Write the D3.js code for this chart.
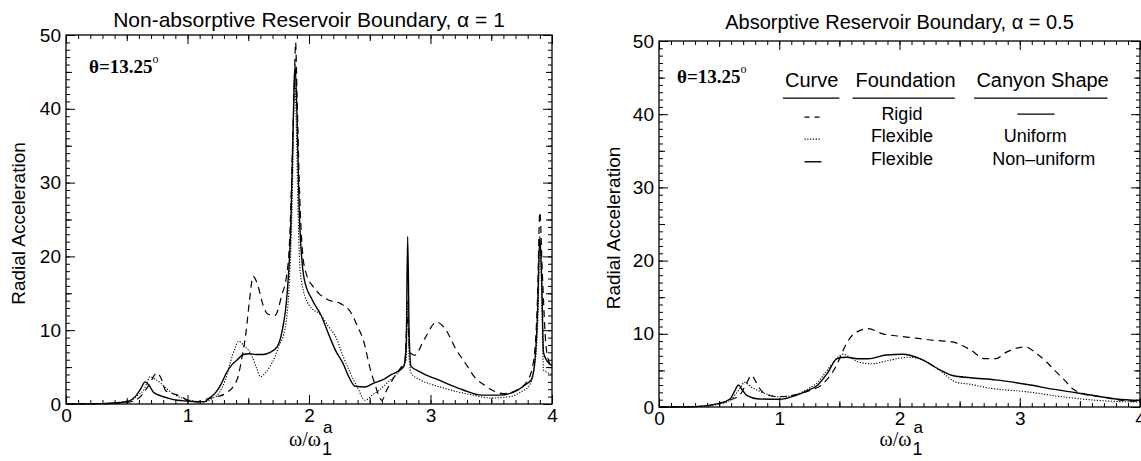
<!DOCTYPE html>
<html>
<head>
<meta charset="utf-8">
<script src="https://cdn.jsdelivr.net/npm/d3@7"></script>
<style>
  body { margin: 0; background: #fff; }
  svg { display: block; }
  .title, .tick text, .label, .legend { font-family: "Liberation Sans", Arial, sans-serif; fill: #000; }
  .serif { font-family: "Liberation Serif", "Times New Roman", serif; fill: #000; }
  .frame { fill: none; stroke: #000; stroke-width: 1.3; }
  .tick line { stroke: #000; stroke-width: 1; }
  .curve { fill: none; stroke: #000; }
</style>
</head>
<body>
<svg id="chart" width="1141" height="461"></svg>
<script>
// x values are omega / omega_1^a, y values radial acceleration
var leftRigid = [[0,0],[0.3,0.05],[0.5,0.2],[0.6,0.8],[0.68,2.5],[0.75,4.2],[0.79,3.2],[0.82,1.8],[0.9,1.3],[0.95,1.0],[1.0,0.5],[1.08,0.3],[1.14,0.6],[1.22,0.9],[1.32,1.5],[1.41,3.4],[1.45,6.5],[1.48,9.5],[1.51,14],[1.54,17.3],[1.58,16],[1.62,13.5],[1.66,12.2],[1.72,12],[1.78,15],[1.81,16.8],[1.84,22],[1.86,32],[1.88,44],[1.89,49],[1.9,43],[1.92,30],[1.95,20],[1.98,17.5],[2.03,16],[2.08,15],[2.16,14.1],[2.26,13.6],[2.34,12.5],[2.4,10.5],[2.45,8.5],[2.5,5],[2.54,2.8],[2.6,0.5],[2.64,1.9],[2.7,3.6],[2.75,4.8],[2.79,5.8],[2.81,12],[2.83,7],[2.87,6.6],[2.95,8.8],[3.05,11.1],[3.12,10.2],[3.21,7.4],[3.3,5.2],[3.36,3.7],[3.45,2.5],[3.53,1.7],[3.6,1.4],[3.7,1.8],[3.8,3.2],[3.85,6],[3.88,14],[3.9,26],[3.92,18],[3.95,8],[3.98,5.5],[4,5]];
var leftFlexUniform = [[0,0],[0.3,0.05],[0.53,0.5],[0.6,1.3],[0.64,1.9],[0.67,3.0],[0.69,3.7],[0.73,3.4],[0.78,2.8],[0.84,1.9],[0.9,1.2],[0.96,0.8],[1.02,0.5],[1.08,0.3],[1.14,0.3],[1.2,0.7],[1.26,1.5],[1.31,3.2],[1.35,5.5],[1.39,7.5],[1.42,8.5],[1.46,8.0],[1.53,6.5],[1.57,4.8],[1.6,3.7],[1.64,4.2],[1.68,5.1],[1.72,6.4],[1.75,7.8],[1.8,10],[1.84,17],[1.865,30],[1.88,45],[1.895,38],[1.91,26],[1.93,17.5],[2.0,13.4],[2.1,12],[2.16,10.5],[2.22,9.1],[2.28,6.5],[2.34,4.2],[2.4,2.2],[2.46,0.5],[2.52,1.2],[2.58,1.9],[2.64,2.8],[2.7,3.7],[2.76,4.8],[2.8,6],[2.812,14],[2.825,6],[2.84,4.2],[2.91,3.3],[3.0,2.7],[3.1,2.2],[3.21,1.7],[3.35,1.2],[3.51,0.8],[3.6,0.9],[3.66,1.0],[3.74,1.6],[3.81,2.4],[3.86,5.5],[3.885,12],[3.9,22],[3.915,15],[3.93,4.6],[3.96,4.3],[4,4]];
var leftFlexNonUniform = [[0,0],[0.3,0.05],[0.5,0.3],[0.58,1.2],[0.62,2.2],[0.65,3.0],[0.68,2.6],[0.72,1.6],[0.78,1.1],[0.84,0.8],[0.92,0.5],[0.99,0.4],[1.08,0.3],[1.14,0.3],[1.18,0.8],[1.23,1.5],[1.28,2.8],[1.32,4.2],[1.37,5.4],[1.41,6.0],[1.46,6.7],[1.51,6.8],[1.56,6.7],[1.62,6.7],[1.68,7.0],[1.74,7.8],[1.78,10],[1.82,15],[1.85,24],[1.87,38],[1.885,46],[1.9,40],[1.92,26],[1.96,17],[2.03,14],[2.1,12],[2.17,9.1],[2.22,7.2],[2.28,5.5],[2.33,3.6],[2.38,2.4],[2.46,2.3],[2.53,2.8],[2.61,3.3],[2.68,4.0],[2.73,4.4],[2.78,5.1],[2.8,8],[2.812,22.7],[2.825,9],[2.84,5.1],[2.91,4.4],[2.98,3.8],[3.06,3.3],[3.16,2.6],[3.27,1.9],[3.42,1.2],[3.57,1.2],[3.65,1.4],[3.72,1.9],[3.78,2.6],[3.83,3.3],[3.86,6],[3.88,12],[3.9,22.7],[3.915,17],[3.93,7],[3.96,5.8],[4,5.2]];

var rightRigid = [[0,0],[0.3,0.05],[0.5,0.5],[0.6,1.0],[0.68,1.8],[0.73,3.3],[0.77,4.3],[0.8,3.6],[0.83,2.7],[0.91,1.6],[1.0,1.4],[1.14,1.7],[1.26,2.3],[1.35,3.0],[1.41,4.0],[1.47,5.5],[1.52,7.3],[1.56,8.7],[1.65,10.3],[1.74,10.7],[1.86,10],[1.98,9.7],[2.14,9.4],[2.29,9.1],[2.44,8.9],[2.52,8.4],[2.59,7.8],[2.71,6.6],[2.8,6.6],[2.89,7.5],[3.05,8.2],[3.14,7.3],[3.22,6.2],[3.29,5.0],[3.37,3.7],[3.44,2.5],[3.53,1.8],[3.68,1.4],[3.86,0.9],[4,0.8]];
var rightFlexUniform = [[0,0],[0.3,0.05],[0.5,0.4],[0.59,0.9],[0.64,1.8],[0.68,2.7],[0.71,3.4],[0.74,3.1],[0.77,2.7],[0.83,2.2],[0.89,1.8],[1.0,1.4],[1.14,1.7],[1.23,2.4],[1.32,3.4],[1.38,4.6],[1.44,5.9],[1.53,7.2],[1.59,6.8],[1.65,6.2],[1.77,5.9],[1.92,6.4],[2.08,6.8],[2.2,6.4],[2.28,5.6],[2.35,4.8],[2.47,3.4],[2.59,3.1],[2.74,2.6],[3.05,2.1],[3.35,1.4],[3.65,0.9],[3.95,0.7],[4,0.7]];
var rightFlexNonUniform = [[0,0],[0.3,0.05],[0.5,0.5],[0.59,1.1],[0.63,2.2],[0.66,3.0],[0.69,2.4],[0.73,1.6],[0.83,1.1],[1.0,1.05],[1.14,1.6],[1.23,2.2],[1.32,3.0],[1.4,4.6],[1.48,6.6],[1.56,6.8],[1.65,6.6],[1.74,6.6],[1.89,7.1],[2.03,7.2],[2.14,6.8],[2.22,6.2],[2.29,5.5],[2.37,4.8],[2.44,4.3],[2.59,4.0],[2.8,3.7],[3.05,3.1],[3.29,2.4],[3.56,1.7],[3.8,1.1],[4,0.9]];

var xMajor = [0, 1, 2, 3, 4];
var yMajor = [0, 10, 20, 30, 40, 50];
var titles = ["Non-absorptive Reservoir Boundary, \u03b1 = 1", "Absorptive Reservoir Boundary, \u03b1 = 0.5"];
var legendHeaders = ["Curve", "Foundation", "Canyon Shape"];
var legendFoundation = ["Rigid", "Flexible", "Flexible"];
var legendCanyon = ["", "Uniform", "Non\u2013uniform"];

var STYLES = [
    { dash: "7,5", width: 1.2 },
    { dash: "1.2,1.6", width: 1.1 },
    { dash: null, width: 1.4 }
];

var svg = d3.select("#chart");

var drawPanel = function (box, title, series, theta) {
    var x = d3.scaleLinear().domain([0, 4]).range([box.left, box.right]);
    var y = d3.scaleLinear().domain([0, 50]).range([box.bottom, box.top]);
    var w = box.right - box.left, h = box.bottom - box.top;
    var cx = (box.left + box.right) / 2;
    var g = svg.append("g");

    var xMinor = d3.range(0, 40.5).map(function (d) { return d / 10; });
    var xHalf = [0.5, 1.5, 2.5, 3.5];
    var yMinor = d3.range(0, 51);
    var yHalf = [5, 15, 25, 35, 45];

    // ticks on every side, pointing in
    var tickSet = function (axisFn, scale, vals, size, labels, transform) {
        var a = axisFn(scale).tickValues(vals).tickSize(-size).tickPadding(5)
            .tickFormat(labels ? d3.format("d") : "");
        var t = g.append("g").attr("transform", transform).call(a);
        t.select(".domain").remove();
        t.selectAll("text").style("font-size", "19px");
        return t;
    };
    tickSet(d3.axisBottom, x, xMinor, 4, false, "translate(0," + box.bottom + ")");
    tickSet(d3.axisBottom, x, xHalf, 6, false, "translate(0," + box.bottom + ")");
    tickSet(d3.axisBottom, x, xMajor, 9, true, "translate(0," + box.bottom + ")");
    tickSet(d3.axisTop, x, xMinor, 4, false, "translate(0," + box.top + ")");
    tickSet(d3.axisTop, x, xHalf, 6, false, "translate(0," + box.top + ")");
    tickSet(d3.axisTop, x, xMajor, 9, false, "translate(0," + box.top + ")");
    tickSet(d3.axisLeft, y, yMinor, 4, false, "translate(" + box.left + ",0)");
    tickSet(d3.axisLeft, y, yHalf, 6, false, "translate(" + box.left + ",0)");
    tickSet(d3.axisLeft, y, yMajor, 9, true, "translate(" + box.left + ",0)");
    tickSet(d3.axisRight, y, yMinor, 4, false, "translate(" + box.right + ",0)");
    tickSet(d3.axisRight, y, yHalf, 6, false, "translate(" + box.right + ",0)");
    tickSet(d3.axisRight, y, yMajor, 9, false, "translate(" + box.right + ",0)");

    g.append("rect").attr("class", "frame")
        .attr("x", box.left).attr("y", box.top)
        .attr("width", w).attr("height", h);

    var line = d3.line()
        .x(function (d) { return x(d[0]); })
        .y(function (d) { return y(d[1]); })
        .curve(d3.curveMonotoneX);

    series.forEach(function (s, i) {
        g.append("path").datum(s)
            .attr("class", "curve")
            .attr("d", line)
            .attr("stroke-width", STYLES[i].width)
            .attr("stroke-dasharray", STYLES[i].dash);
    });

    g.append("text").attr("class", "title")
        .attr("x", cx).attr("y", box.titleY)
        .attr("text-anchor", "middle").style("font-size", box.titleSize)
        .text(title);

    g.append("text").attr("class", "label")
        .attr("transform", "translate(" + box.yLabelX + "," + ((box.top + box.bottom) / 2 + 4) + ") rotate(-90)")
        .attr("text-anchor", "middle").style("font-size", "19px")
        .text("Radial Acceleration");

    // omega / omega_1^a
    g.append("text").attr("class", "serif")
        .attr("x", cx + 12).attr("y", 446)
        .attr("text-anchor", "end").style("font-size", "20px")
        .text("\u03c9/\u03c9");
    g.append("text").attr("class", "label").style("font-size", "17px")
        .attr("x", cx + 14).attr("y", 433).text("a");
    g.append("text").attr("class", "label").style("font-size", "18px")
        .attr("x", cx + 13).attr("y", 455).text("1");

    var th = g.append("text").attr("class", "serif")
        .attr("x", x(theta[0])).attr("y", y(theta[1]))
        .style("font-size", "19px").style("font-weight", "bold");
    th.append("tspan").text("\u03b8=13.25");
    th.append("tspan").attr("dy", -10).style("font-size", "12px").style("font-weight", "normal").text("o");

    return { g: g, x: x, y: y };
};

var left = drawPanel({ left: 66, right: 552, top: 35, bottom: 404, titleY: 27, titleSize: "21px", yLabelX: 25 },
    titles[0], [leftRigid, leftFlexUniform, leftFlexNonUniform], [0.19, 44.9]);
var right = drawPanel({ left: 659, right: 1140, top: 41, bottom: 407, titleY: 29, titleSize: "20px", yLabelX: 620 },
    titles[1], [rightRigid, rightFlexUniform, rightFlexNonUniform], [0.15, 44.3]);

// legend inside the right panel, placed in data units
var lg = right.g.append("g");
var xr = right.x, yr = right.y;
var headerX = [1.27, 2.05, 3.19];
var underline = [[1.03, 1.5], [1.61, 2.46], [2.62, 3.73]];
var rowY = [39.2, 36.2, 33.1];

legendHeaders.forEach(function (t, i) {
    lg.append("text").attr("class", "legend")
        .attr("x", xr(headerX[i])).attr("y", yr(43.7))
        .attr("text-anchor", "middle").style("font-size", "20px").text(t);
    lg.append("line")
        .attr("x1", xr(underline[i][0])).attr("x2", xr(underline[i][1]))
        .attr("y1", yr(42.2)).attr("y2", yr(42.2))
        .attr("stroke", "#000").attr("stroke-width", 1.2);
});

rowY.forEach(function (ry, i) {
    lg.append("line")
        .attr("x1", xr(1.21)).attr("x2", xr(1.35))
        .attr("y1", yr(ry + 0.4)).attr("y2", yr(ry + 0.4))
        .attr("stroke", "#000")
        .attr("stroke-width", STYLES[i].width)
        .attr("stroke-dasharray", i == 0 ? "5,5" : STYLES[i].dash);
    lg.append("text").attr("class", "legend")
        .attr("x", xr(2.02)).attr("y", yr(ry))
        .attr("text-anchor", "middle").style("font-size", "18px").text(legendFoundation[i]);
    if (legendCanyon[i]) {
        lg.append("text").attr("class", "legend")
            .attr("x", xr(i == 1 ? 3.13 : 3.2)).attr("y", yr(ry))
            .attr("text-anchor", "middle").style("font-size", "18px").text(legendCanyon[i]);
    }
});
lg.append("line")
    .attr("x1", xr(2.98)).attr("x2", xr(3.29))
    .attr("y1", yr(40.0)).attr("y2", yr(40.0))
    .attr("stroke", "#000").attr("stroke-width", 1.2);
</script>
</body>
</html>
